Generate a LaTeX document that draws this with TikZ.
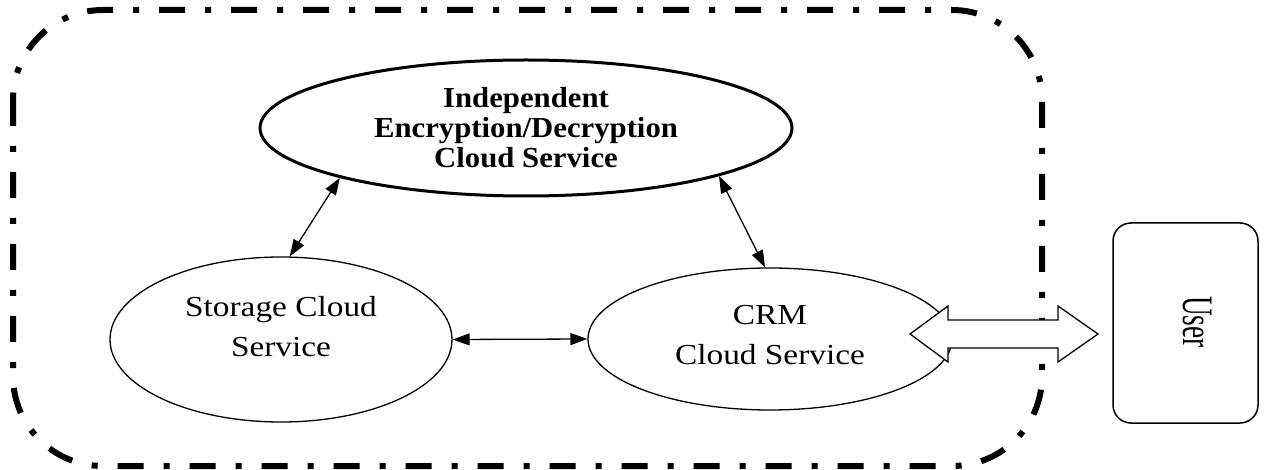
\documentclass[tikz,border=0pt]{standalone}
\usepackage{fontspec}
\setmainfont{Liberation Serif}
\newfontfamily\lblfont[FakeStretch=1.15]{Liberation Serif}
\newfontfamily\bldfont[FakeStretch=1.06]{Liberation Serif}
\usetikzlibrary{shapes.geometric,arrows.meta}
\begin{document}
\begin{tikzpicture}[x=1pt,y=-1pt,
  frame/.style={line width=6pt, dash pattern=on 26pt off 20pt on 6pt off 20pt, rounded corners=90pt},
  bigell/.style={ellipse, draw, line width=3pt, inner sep=0pt, fill=white},
  ell/.style={ellipse, draw, line width=1.3pt, inner sep=0pt, fill=white},
  lbl/.style={align=center, font=\lblfont\fontsize{29}{40}\selectfont, inner sep=0pt},
  blbl/.style={align=center, font=\bldfont\bfseries\fontsize{29}{30}\selectfont, inner sep=0pt},
  link/.style={line width=1.3pt, arrows={Triangle[length=17pt,width=12pt]-Triangle[length=17pt,width=12pt]}},
  blockarrow/.style={line width=1.3pt, fill=white, line join=miter},
  userbox/.style={draw, line width=1.5pt, rounded corners=18pt, inner sep=0pt, fill=white}
]
\useasboundingbox (0,0) rectangle (1264,470);

% outer dash-dot boundary
\draw[frame] (13,10) rectangle (1042,466);

% ellipses
\node[bigell, minimum width=532pt, minimum height=136pt] (enc) at (526,128) {};
\node[blbl] (enct) at (enc.center) {Independent\\Encryption/Decryption\\Cloud Service};

\node[ell, minimum width=342pt, minimum height=165pt] (st) at (281,339.5) {};
\node[lbl] (stt) at ([yshift=12.5pt]st.center) {Storage Cloud\\Service};

\node[ell, minimum width=364pt, minimum height=142pt] (crm) at (770,339) {};
\node[lbl] (crmt) at ([yshift=3.6pt]crm.center) {CRM\\Cloud Service};

% connectors
\draw[link] (enc.195) -- (st.84);
\draw[link] (enc.-14) -- (crm.94);
\draw[link] (st.east) -- (crm.west);

% user box
\node[userbox, minimum width=145pt, minimum height=200pt] (user) at (1185.5,323) {};
\node[rotate=-90, font=\lblfont\fontsize{29}{30}\selectfont, inner sep=0pt] (usert) at (1198,322) {\scalebox{0.82}[1.5]{User}};

% block double arrow between CRM and User
\coordinate (bl) at (910,334);
\coordinate (br) at (1098,334);
\draw[blockarrow] (bl) -- ++(38,-28) -- ++(0,14) -- ++(110,0) -- ++(0,-14)
  -- (br) -- ++(-40,28) -- ++(0,-14) -- ++(-110,0) -- ++(0,14) -- cycle;
\end{tikzpicture}
\end{document}
